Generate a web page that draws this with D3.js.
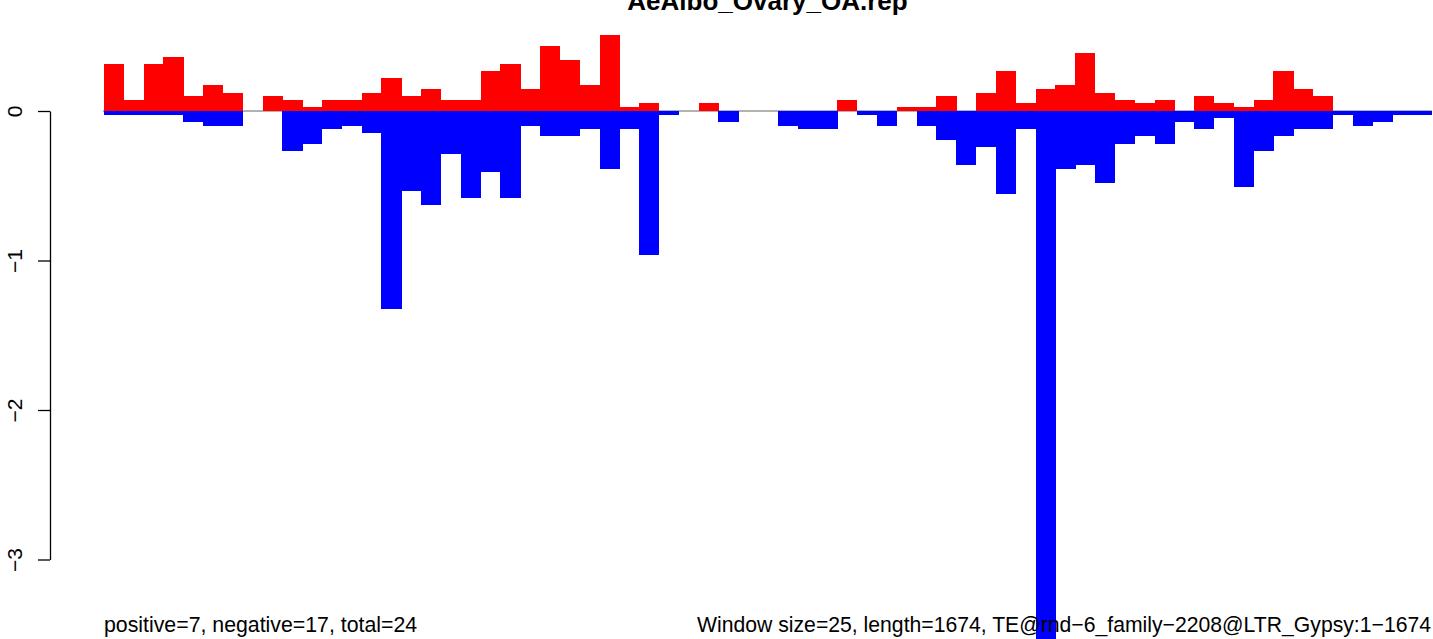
<!DOCTYPE html>
<html>
<head>
<meta charset="utf-8">
<script src="https://cdn.jsdelivr.net/npm/d3@7"></script>
<style>
  html, body { margin: 0; padding: 0; background: #fff; }
  svg { display: block; font-family: "Liberation Sans", Arial, Helvetica, sans-serif; }
</style>
</head>
<body>
<svg id="chart" width="1433" height="639"></svg>
<script>
// ---- data ----
const chartTitle = "AeAlbo_Ovary_OA.rep";
const leftNote = "positive=7, negative=17, total=24";
const rightNote = "Window size=25, length=1674, TE@rnd\u22126_family\u22122208@LTR_Gypsy:1\u22121674";
const windows = d3.range(67);
const positiveValues = [
  0.312, 0.072, 0.312, 0.359, 0.098, 0.172, 0.118, 0, 0.098, 0.072,
  0.025, 0.072, 0.072, 0.118, 0.219, 0.098, 0.145, 0.072, 0.072, 0.266,
  0.312, 0.145, 0.433, 0.339, 0.172, 0.506, 0.025, 0.052, 0, 0,
  0.052, 0, 0, 0, 0, 0, 0, 0.072, 0, 0,
  0.025, 0.025, 0.098, 0, 0.118, 0.266, 0.052, 0.145, 0.172, 0.386,
  0.118, 0.072, 0.052, 0.072, 0, 0.098, 0.052, 0.025, 0.072, 0.266,
  0.145, 0.098, 0, 0, 0, 0, 0
];
const negativeValues = [
  -0.029, -0.029, -0.029, -0.029, -0.073, -0.102, -0.102, 0, 0, -0.27,
  -0.223, -0.122, -0.102, -0.149, -1.327, -0.532, -0.63, -0.288, -0.584, -0.41,
  -0.584, -0.1, -0.169, -0.169, -0.122, -0.39, -0.122, -0.966, -0.029, 0,
  0, -0.076, 0, 0, -0.102, -0.122, -0.122, 0, -0.029, -0.102,
  0, -0.102, -0.196, -0.363, -0.243, -0.558, -0.122, -3.7, -0.39, -0.363,
  -0.484, -0.223, -0.169, -0.223, -0.076, -0.122, -0.049, -0.51, -0.27, -0.169,
  -0.122, -0.122, -0.029, -0.102, -0.076, -0.029, -0.029
];
const yTicks = [0, -1, -2, -3];
const yTickLabels = ["0", "\u22121", "\u22122", "\u22123"];

// ---- layout ----
const svg = d3.select("#chart");
const x = d3.scaleBand().domain(windows).range([104, 1432]).padding(0);
const y = d3.scaleLinear().domain([0, -3]).range([111, 559.5]);

// zero line
svg.append("line")
  .attr("x1", 103).attr("x2", 1432)
  .attr("y1", y(0)).attr("y2", y(0))
  .attr("stroke", "#999").attr("stroke-width", 1.6);

// positive bars
svg.append("g").attr("shape-rendering", "crispEdges")
  .selectAll("rect").data(windows.filter(i => positiveValues[i] > 0)).join("rect")
  .attr("x", i => x(i)).attr("width", x.bandwidth() + 0.3)
  .attr("y", i => y(positiveValues[i]))
  .attr("height", i => y(0) - y(positiveValues[i]))
  .attr("fill", "#ff0000");

// negative bars
svg.append("g").attr("shape-rendering", "crispEdges")
  .selectAll("rect").data(windows.filter(i => negativeValues[i] < 0)).join("rect")
  .attr("x", i => x(i)).attr("width", x.bandwidth() + 0.3)
  .attr("y", y(0))
  .attr("height", i => y(negativeValues[i]) - y(0))
  .attr("fill", "#0000ff");

// y axis
const yAxis = d3.axisLeft(y).tickValues(yTicks)
  .tickFormat((d, i) => yTickLabels[i]).tickSize(12).tickSizeOuter(0);
const ax = svg.append("g").attr("transform", "translate(50,0)").call(yAxis);
ax.select(".domain").attr("stroke", "#000").attr("stroke-width", 1.3);
ax.selectAll(".tick line").attr("stroke", "#000").attr("stroke-width", 1.3);
ax.selectAll(".tick text")
  .attr("x", null).attr("dy", null)
  .attr("transform", "translate(-28,0) rotate(-90)")
  .attr("text-anchor", "middle")
  .attr("font-size", 21)
  .attr("font-family", "Liberation Sans, Arial, sans-serif")
  .attr("fill", "#000");

// title (partly outside the top edge, as in the reference)
svg.append("text")
  .attr("x", 767.5).attr("y", 10)
  .attr("text-anchor", "middle")
  .attr("font-size", 26).attr("font-weight", "bold")
  .text(chartTitle);

// bottom notes (drawn over the bars)
svg.append("text")
  .attr("x", 104).attr("y", 632)
  .attr("font-size", 21.3)
  .text(leftNote);
svg.append("text")
  .attr("x", 1431).attr("y", 632)
  .attr("text-anchor", "end")
  .attr("font-size", 21.3)
  .attr("textLength", 734).attr("lengthAdjust", "spacingAndGlyphs")
  .text(rightNote);
</script>
</body>
</html>
